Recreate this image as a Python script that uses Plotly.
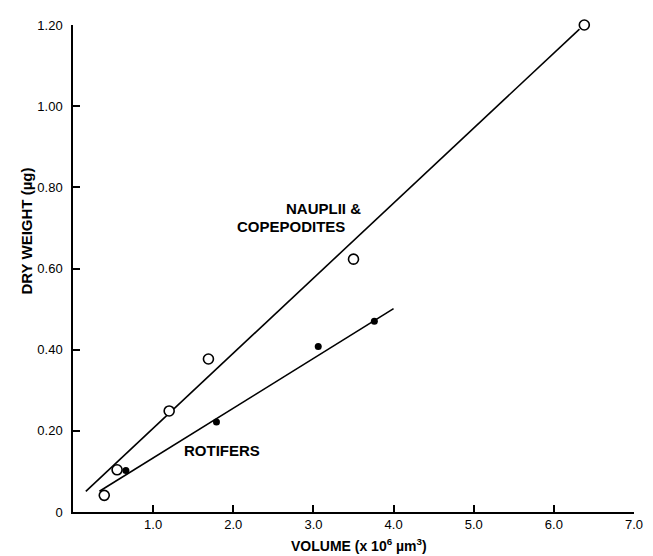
import plotly.graph_objects as go

# Data
naup_x = [0.39, 0.55, 1.20, 1.69, 3.50, 6.38]
naup_y = [0.041, 0.104, 0.249, 0.377, 0.623, 1.20]
rot_x = [0.66, 1.79, 3.06, 3.76]
rot_y = [0.102, 0.222, 0.408, 0.470]
naup_fit_x = [0.16, 6.32]
naup_fit_y = [0.051, 1.19]
rot_fit_x = [0.33, 4.00]
rot_fit_y = [0.051, 0.501]
x_ticks = [1, 2, 3, 4, 5, 6, 7]
x_ticklabels = ["1.0", "2.0", "3.0", "4.0", "5.0", "6.0", "7.0"]
y_ticks = [0, 0.2, 0.4, 0.6, 0.8, 1.0, 1.2]
y_ticklabels = ["0", "0.20", "0.40", "0.60", "0.80", "1.00", "1.20"]

FONT = "Liberation Sans, Arial, sans-serif"

fig = go.Figure()
fig.add_trace(go.Scatter(x=naup_fit_x, y=naup_fit_y, mode="lines",
                         line=dict(color="black", width=1.6), showlegend=False))
fig.add_trace(go.Scatter(x=rot_fit_x, y=rot_fit_y, mode="lines",
                         line=dict(color="black", width=1.6), showlegend=False))
fig.add_trace(go.Scatter(x=naup_x, y=naup_y, mode="markers", cliponaxis=False,
                         marker=dict(symbol="circle", size=10, color="white",
                                     line=dict(color="black", width=1.6)),
                         showlegend=False))
fig.add_trace(go.Scatter(x=rot_x, y=rot_y, mode="markers", cliponaxis=False,
                         marker=dict(symbol="circle", size=7, color="black"),
                         showlegend=False))

fig.update_xaxes(range=[0, 7], tickvals=x_ticks, ticktext=x_ticklabels,
                 ticks="inside", ticklen=7, tickwidth=1.5, tickcolor="black",
                 showline=True, linecolor="black", linewidth=1.5,
                 showgrid=False, zeroline=False,
                 tickfont=dict(family=FONT, size=13, color="black"))
fig.update_yaxes(range=[0, 1.2], tickvals=y_ticks, ticktext=y_ticklabels,
                 ticks="inside", ticklen=7, tickwidth=1.5, tickcolor="black",
                 showline=True, linecolor="black", linewidth=1.5,
                 showgrid=False, zeroline=False, ticklabelstandoff=6,
                 tickfont=dict(family=FONT, size=13, color="black"))

annots = [
    dict(x=3.12, y=0.747, text="<b>NAUPLII &</b>", xref="x", yref="y",
         font=dict(family=FONT, size=15, color="black"), showarrow=False),
    dict(x=2.72, y=0.703, text="<b>COPEPODITES</b>", xref="x", yref="y",
         font=dict(family=FONT, size=15, color="black"), showarrow=False),
    dict(x=1.86, y=0.151, text="<b>ROTIFERS</b>", xref="x", yref="y",
         font=dict(family=FONT, size=15, color="black"), showarrow=False),
    dict(x=0.509, y=-0.068, text="<b>VOLUME (x 10<sup>6</sup> µm<sup>3</sup>)</b>",
         xref="paper", yref="paper", xanchor="center", yanchor="middle",
         font=dict(family=FONT, size=14, color="black"), showarrow=False),
    dict(x=-0.082, y=0.578, text="<b>DRY WEIGHT (µg)</b>", textangle=-90,
         xref="paper", yref="paper", xanchor="center", yanchor="middle",
         font=dict(family=FONT, size=15, color="black"), showarrow=False),
]
# The page body adds an 8px offset, so the figure is sized to land the plot
# area where the reference has it inside the 653x556 window.
fig.update_layout(width=645, height=548, margin=dict(l=65, r=10, t=13, b=44),
                  plot_bgcolor="white", paper_bgcolor="white",
                  annotations=annots, showlegend=False)

fig.write_html("out.html")
